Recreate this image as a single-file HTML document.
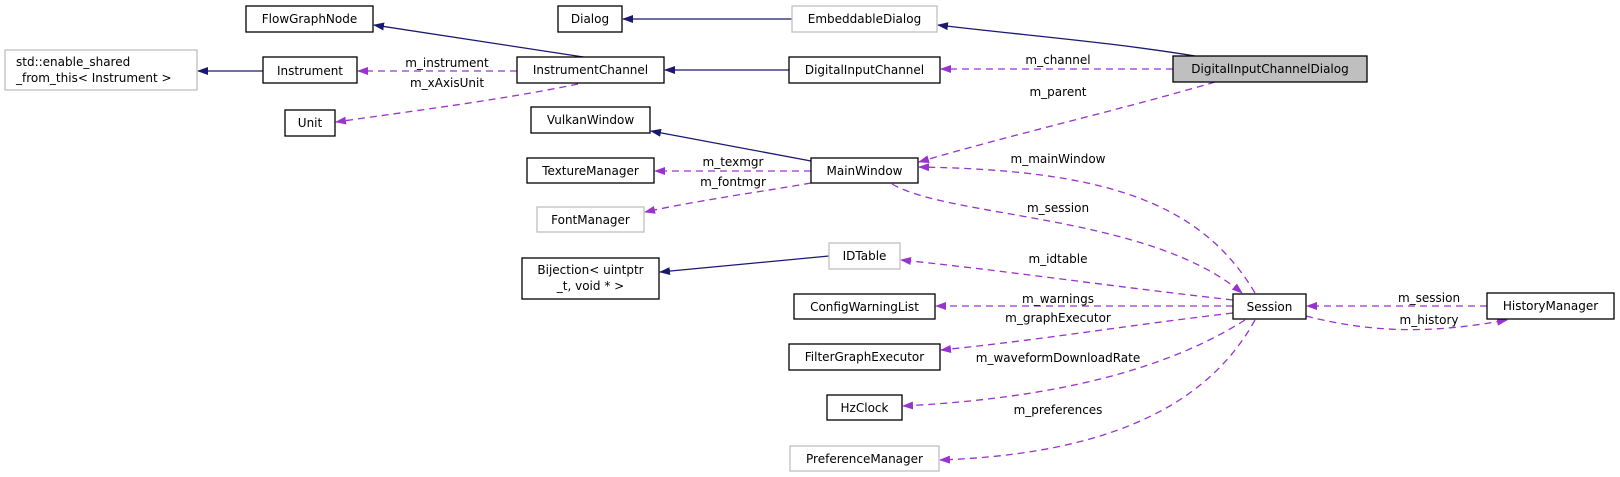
<!DOCTYPE html>
<html><head><meta charset="utf-8"><style>
html,body{margin:0;padding:0;background:#fff;}
svg{display:block;}
text{font-family:"DejaVu Sans","Liberation Sans",sans-serif;font-size:12px;fill:#000;}
</style></head><body>
<svg width="1620" height="477" viewBox="0 0 1620 477" xmlns="http://www.w3.org/2000/svg">
<defs>
<marker id="ab" markerWidth="11" markerHeight="8" refX="10" refY="4" orient="auto" markerUnits="userSpaceOnUse"><path d="M0,0 L11,4 L0,8 z" fill="#191970"/></marker>
<marker id="ap" markerWidth="11" markerHeight="8" refX="10" refY="4" orient="auto" markerUnits="userSpaceOnUse"><path d="M0,0 L11,4 L0,8 z" fill="#9a32cd"/></marker>
</defs>
<g fill="none" stroke="#191970" stroke-width="1.3">
<path d="M590,58 L374,25" marker-end="url(#ab)"/>
<path d="M263,71 L198,71" marker-end="url(#ab)"/>
<path d="M792,19 L623,19" marker-end="url(#ab)"/>
<path d="M1195,56 C1110,42 1020,35 938,25" marker-end="url(#ab)"/>
<path d="M789,70 L665,70" marker-end="url(#ab)"/>
<path d="M811,161 L651,131" marker-end="url(#ab)"/>
<path d="M829,256 L660,272" marker-end="url(#ab)"/>
</g>
<g fill="none" stroke="#9a32cd" stroke-width="1.3" stroke-dasharray="7,5">
<path d="M517,71 L358,71" marker-end="url(#ap)"/>
<path d="M578,84 C500,100 420,110 336,122" marker-end="url(#ap)"/>
<path d="M1173,69 L941,69" marker-end="url(#ap)"/>
<path d="M1215,82 C1120,110 1010,135 919,162" marker-end="url(#ap)"/>
<path d="M811,171 L655,171" marker-end="url(#ap)"/>
<path d="M811,183 C760,192 700,200 645,212" marker-end="url(#ap)"/>
<path d="M1255,293 C1200,200 1100,170 919,167" marker-end="url(#ap)"/>
<path d="M892,184 C950,218 1150,215 1242,293" marker-end="url(#ap)"/>
<path d="M1233,300 C1100,285 1000,270 901,260" marker-end="url(#ap)"/>
<path d="M1233,306 L936,306" marker-end="url(#ap)"/>
<path d="M1233,313 C1130,325 1040,340 941,350" marker-end="url(#ap)"/>
<path d="M1245,320 C1150,380 1020,400 903,406" marker-end="url(#ap)"/>
<path d="M1255,320 C1200,420 1080,455 940,460" marker-end="url(#ap)"/>
<path d="M1487,306 L1307,306" marker-end="url(#ap)"/>
<path d="M1306,316 C1380,335 1440,332 1507,320" marker-end="url(#ap)"/>
</g>
<g stroke-width="1.3">
<rect x="246" y="6" width="127" height="26" fill="#fff" stroke="#000"/>
<rect x="5" y="50" width="192" height="40" fill="#fff" stroke="#bfbfbf"/>
<rect x="263" y="57" width="94" height="26" fill="#fff" stroke="#000"/>
<rect x="285" y="110" width="50" height="26" fill="#fff" stroke="#000"/>
<rect x="558" y="6" width="64" height="26" fill="#fff" stroke="#000"/>
<rect x="792" y="6" width="145" height="26" fill="#fff" stroke="#bfbfbf"/>
<rect x="517" y="57" width="147" height="26" fill="#fff" stroke="#000"/>
<rect x="789" y="57" width="151" height="26" fill="#fff" stroke="#000"/>
<rect x="1173" y="56" width="194" height="26" fill="#bfbfbf" stroke="#000"/>
<rect x="531" y="107" width="119" height="26" fill="#fff" stroke="#000"/>
<rect x="527" y="158" width="127" height="25" fill="#fff" stroke="#000"/>
<rect x="811" y="158" width="107" height="25" fill="#fff" stroke="#000"/>
<rect x="537" y="207" width="107" height="25" fill="#fff" stroke="#bfbfbf"/>
<rect x="829" y="243" width="71" height="26" fill="#fff" stroke="#bfbfbf"/>
<rect x="522" y="258" width="137" height="41" fill="#fff" stroke="#000"/>
<rect x="794" y="294" width="141" height="25" fill="#fff" stroke="#000"/>
<rect x="1233" y="294" width="73" height="25" fill="#fff" stroke="#000"/>
<rect x="1487" y="293" width="127" height="26" fill="#fff" stroke="#000"/>
<rect x="789" y="344" width="151" height="26" fill="#fff" stroke="#000"/>
<rect x="827" y="395" width="75" height="25" fill="#fff" stroke="#000"/>
<rect x="790" y="446" width="149" height="25" fill="#fff" stroke="#bfbfbf"/>
</g>
<g text-anchor="middle">
<text x="309.5" y="23">FlowGraphNode</text>
<text x="16" y="66" text-anchor="start">std::enable_shared</text>
<text x="16" y="82" text-anchor="start">_from_this&lt; Instrument &gt;</text>
<text x="310" y="75">Instrument</text>
<text x="310" y="127">Unit</text>
<text x="590" y="23">Dialog</text>
<text x="864.5" y="23">EmbeddableDialog</text>
<text x="590.5" y="74">InstrumentChannel</text>
<text x="864.5" y="74">DigitalInputChannel</text>
<text x="1270" y="73">DigitalInputChannelDialog</text>
<text x="590.5" y="124">VulkanWindow</text>
<text x="590.5" y="175">TextureManager</text>
<text x="864.5" y="175">MainWindow</text>
<text x="590.5" y="224">FontManager</text>
<text x="864.5" y="260">IDTable</text>
<text x="590.5" y="274">Bijection&lt; uintptr</text>
<text x="590.5" y="290">_t, void * &gt;</text>
<text x="864.5" y="311">ConfigWarningList</text>
<text x="1269.5" y="311">Session</text>
<text x="1550.5" y="310">HistoryManager</text>
<text x="864.5" y="361">FilterGraphExecutor</text>
<text x="864.5" y="412">HzClock</text>
<text x="864.5" y="463">PreferenceManager</text>
<text x="447" y="67">m_instrument</text>
<text x="447" y="87">m_xAxisUnit</text>
<text x="1058" y="64">m_channel</text>
<text x="1058" y="96">m_parent</text>
<text x="733" y="166">m_texmgr</text>
<text x="733" y="186">m_fontmgr</text>
<text x="1058" y="163">m_mainWindow</text>
<text x="1058" y="212">m_session</text>
<text x="1058" y="263">m_idtable</text>
<text x="1058" y="303">m_warnings</text>
<text x="1058" y="322">m_graphExecutor</text>
<text x="1058" y="362">m_waveformDownloadRate</text>
<text x="1058" y="414">m_preferences</text>
<text x="1429" y="302">m_session</text>
<text x="1429" y="324">m_history</text>
</g>
</svg>
</body></html>
